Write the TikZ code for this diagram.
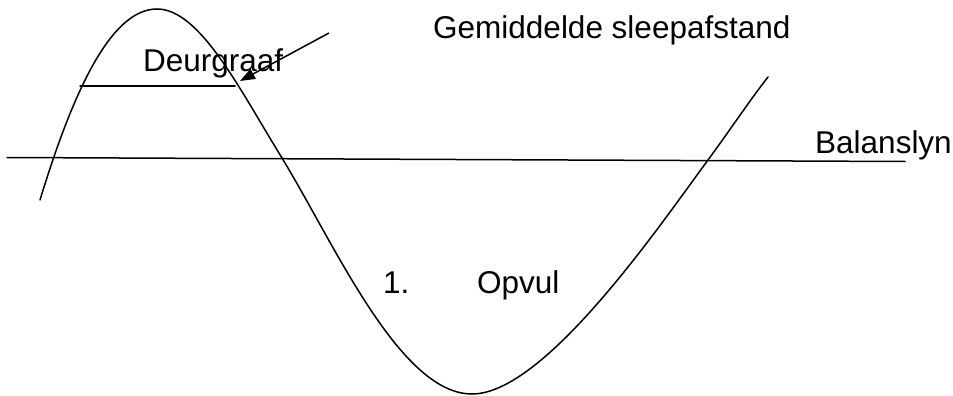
\documentclass[tikz,border=0pt]{standalone}
\usepackage{fontspec}
\setmainfont{Liberation Sans}
\usetikzlibrary{arrows.meta}
\begin{document}
\begin{tikzpicture}[x=1pt,y=-1pt,
  curve/.style={line width=1.5pt,line cap=round},
  lbl/.style={inner sep=0pt,anchor=base west,font=\fontsize{31.5}{38}\selectfont},
  pointer/.style={line width=1.5pt,-{Triangle[length=15pt,width=11pt]}}]
\useasboundingbox (0,0) rectangle (953,396);
% balance line
\coordinate (bl1) at (7,157.5);
\coordinate (bl2) at (905,161.5);
\draw[curve] (bl1) -- (bl2);
% wave
\draw[curve] (40,200) .. controls (72,95) and (110,9) .. (157,9)
  .. controls (200,9) and (240,90) .. (282,158)
  .. controls (335,245) and (400,394) .. (472,394)
  .. controls (545,394) and (660,225) .. (708,160)
  .. controls (730,130) and (750,100) .. (768,77);
% deurgraaf line
\coordinate (dg1) at (80,86);
\coordinate (dg2) at (235,86);
\draw[curve] (dg1) -- (dg2);
% labels
\node[lbl] (gem) at (433,39) {Gemiddelde sleepafstand};
\node[lbl] (deur) at (143,72) {Deurgraaf};
\node[lbl] (bal) at (815,153) {Balanslyn};
\node[lbl] (num) at (383,293) {1.};
\node[lbl] (opv) at (477,293) {Opvul};
% pointer arrow
\coordinate (as) at (329,33);
\coordinate (at) at (240,81);
\draw[pointer] (as) -- (at);
\end{tikzpicture}
\end{document}
